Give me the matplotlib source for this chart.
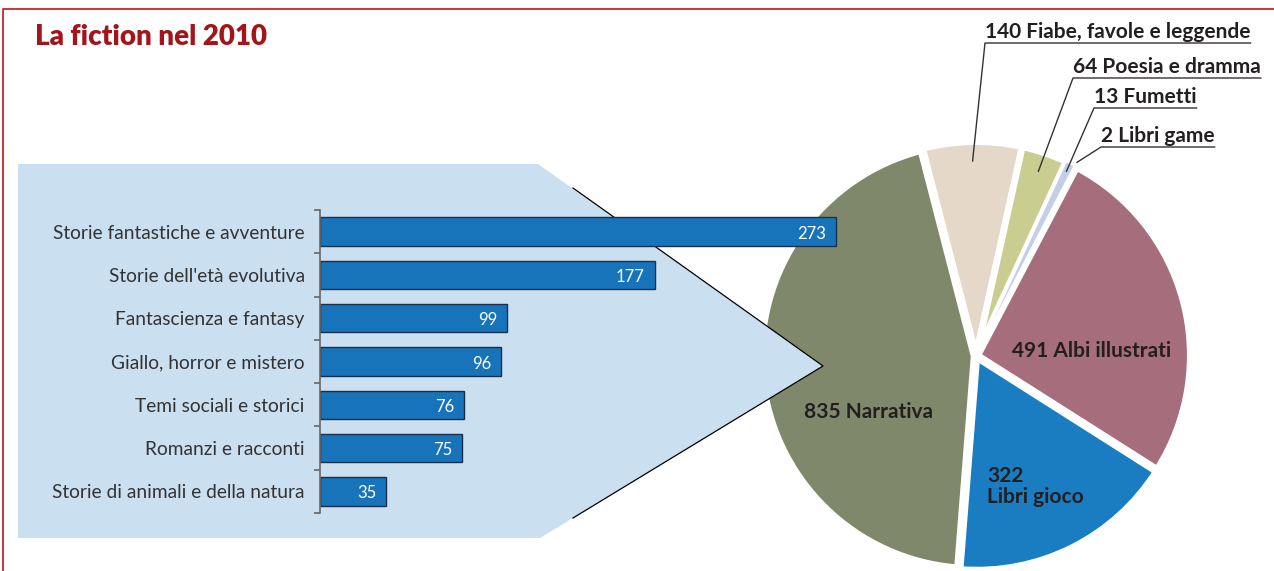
import numpy as np
import matplotlib
matplotlib.use('Agg')
import matplotlib.pyplot as plt
from matplotlib.patches import Polygon

plt.rcParams['font.family'] = ['Lato', 'DejaVu Sans']

# dati: generi della narrativa (barre)
generi = ['Storie fantastiche e avventure', "Storie dell'età evolutiva",
          'Fantascienza e fantasy', 'Giallo, horror e mistero',
          'Temi sociali e storici', 'Romanzi e racconti',
          'Storie di animali e della natura']
titoli_generi = [273, 177, 99, 96, 76, 75, 35]

# dati: la fiction per settore (torta)
settori = ['Narrativa', 'Libri gioco', 'Albi illustrati', 'Libri game',
           'Fumetti', 'Poesia e dramma', 'Fiabe, favole e leggende']
titoli_settori = [835, 322, 491, 2, 13, 64, 140]
colori_settori = ['#7f886b', '#1a7dc1', '#a66d7c', '#d6dff0',
                  '#c3cfe8', '#c9cd8f', '#e5d8c8']

W, H = 1274, 571
fig = plt.figure(figsize=(W / 100, H / 100), dpi=100)
TXT = '#231f20'

# ---- torta
CX, CY, R = 976, 356, 212
lim = 1.1
half = R * lim
ax_pie = fig.add_axes([(CX - half) / W, (H - CY - half) / H, 2 * half / W, 2 * half / H], zorder=1)
wedges, _ = ax_pie.pie(titoli_settori, colors=colori_settori, startangle=104.5,
                       counterclock=True, radius=1, explode=[0.01] * len(titoli_settori),
                       wedgeprops=dict(edgecolor='white', linewidth=4.5))
# le fette piccolissime restano visibili
for k in (3, 4):
    wedges[k].set_linewidth(1.2)
    wedges[k].set_zorder(5)
ax_pie.set_xlim(-lim, lim)
ax_pie.set_ylim(-lim, lim)
ax_pie.axis('off')

lab_font = dict(fontsize=15, fontweight='bold', color=TXT)
ax_pie.text(-0.505, -0.264, f'{titoli_settori[0]} {settori[0]}', ha='center', va='center', **lab_font)
ax_pie.text(0.545, 0.024, f'{titoli_settori[2]} {settori[2]}', ha='center', va='center', **lab_font)
ax_pie.text(0.052, -0.615, f'{titoli_settori[1]}\n{settori[1]}', ha='left', va='center',
            linespacing=1.05, **lab_font)

# ---- sfondo, cornice, freccia
bg = fig.add_axes([0, 0, 1, 1], zorder=2)
bg.set_xlim(0, W)
bg.set_ylim(H, 0)
bg.axis('off')
bg.patch.set_visible(False)

bg.plot([3, 3, W], [H, 9, 9], color='#c0272d', lw=1.3)
bg.text(35, 37, 'La fiction nel 2010', fontsize=20, fontweight='heavy',
        color='#a3151b', ha='left', va='center')

bg.add_patch(Polygon([(18, 164), (538, 164), (823, 366), (540, 538), (18, 538)],
                     closed=True, facecolor='#cadff0', edgecolor='none'))
bg.plot([573, 823, 573], [188, 366, 518], color='black', lw=0.9)

# etichette esterne con linee guida
esterni = [(6, 985, 43, 0.92), (5, 1073, 78, 0.92), (4, 1094, 108, 0.97), (3, 1101, 147, 1.03)]
renderer = fig.canvas.get_renderer()
for idx, tx, uly, rf in esterni:
    w = wedges[idx]
    ang = np.deg2rad((w.theta1 + w.theta2) / 2)
    px = CX + rf * R * np.cos(ang)
    py = CY - rf * R * np.sin(ang)
    t = bg.text(tx, uly - 5, f'{titoli_settori[idx]} {settori[idx]}', ha='left',
                va='baseline', **lab_font)
    bb = t.get_window_extent(renderer=renderer)
    bg.plot([px, tx, tx + bb.width], [py, uly, uly], color='#333333', lw=1)

# ---- barre
X0 = 320
PX_PER = (836 - 320) / 273
ax_bar = fig.add_axes([X0 / W, (H - 513) / H, 600 / W, 303 / H], zorder=3)
ax_bar.patch.set_visible(False)
y = np.arange(len(generi))
ax_bar.barh(y, titoli_generi, height=0.66, color='#1874ba', edgecolor='#1c2f4a', lw=1)
ax_bar.set_xlim(0, 600 / PX_PER)
ax_bar.set_ylim(len(generi) - 0.5, -0.5)
ax_bar.set_yticks(y, generi, fontsize=13.8, color='#333333')
ax_bar.set_yticks(np.arange(-0.5, len(generi)), minor=True)
ax_bar.tick_params(axis='y', which='major', length=0, pad=11)
ax_bar.tick_params(axis='y', which='minor', length=4.5, width=1.2, color='#666666')
ax_bar.set_xticks([])
for s in ['top', 'right', 'bottom']:
    ax_bar.spines[s].set_visible(False)
ax_bar.spines['left'].set_color('#666666')
ax_bar.spines['left'].set_linewidth(1.2)
for i, v in enumerate(titoli_generi):
    ax_bar.annotate(str(v), (v, i), xytext=(-7, -1.5), textcoords='offset points',
                    ha='right', va='center', color='white', fontsize=12)

fig.savefig('out.png', dpi=100)
